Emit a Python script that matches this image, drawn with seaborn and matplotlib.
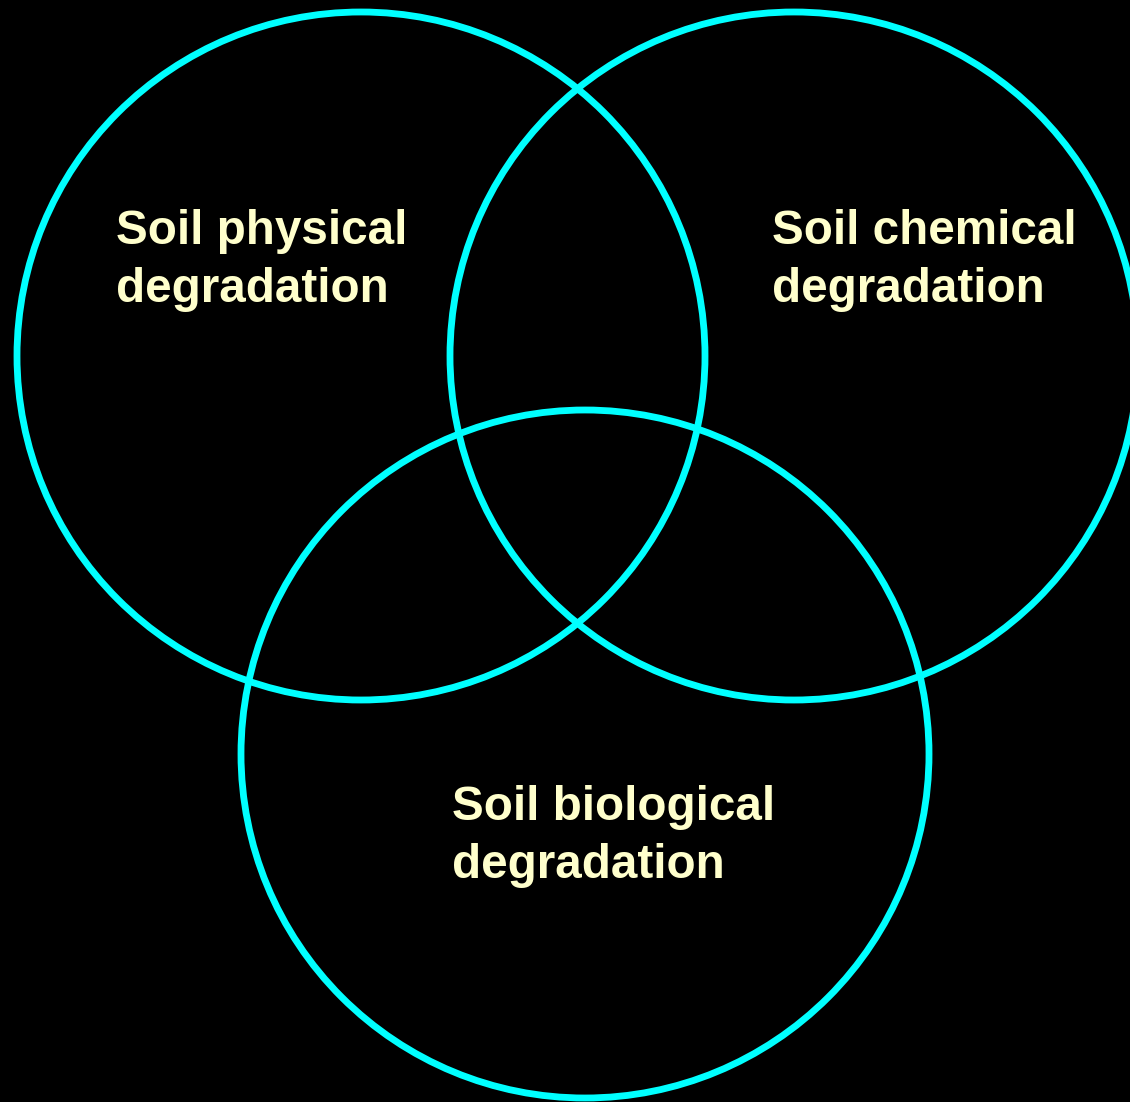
import matplotlib.pyplot as plt
import seaborn as sns

# Venn circles (pixel space of the original slide)
labels = ['Soil physical\ndegradation', 'Soil chemical\ndegradation', 'Soil biological\ndegradation']
center_x = [361, 794, 585]
center_y = [356, 356, 754]
radius = [344, 344, 344]
label_x = [116, 772, 452]
label_y = [209, 209, 785]

sns.set_style('dark', {'axes.facecolor': 'black', 'figure.facecolor': 'black'})
plt.rcParams['font.family'] = ['Liberation Sans', 'DejaVu Sans']

fig = plt.figure(figsize=(11.30, 11.02), dpi=100)
ax = fig.add_axes([0, 0, 1, 1])
ax.set_facecolor('black')

for i in range(3):
    ax.add_patch(plt.Circle((center_x[i], center_y[i]), radius[i], fill=False,
                            edgecolor='#00ffff', linewidth=4.9))

for i in range(3):
    ax.text(label_x[i], label_y[i], labels[i], color='#ffffcc', fontsize=34.3,
            fontweight='bold', ha='left', va='top', linespacing=1.37)

ax.set_xlim(0, 1130)
ax.set_ylim(1102, 0)
ax.set_aspect('equal')
ax.axis('off')

fig.savefig('out.png', dpi=100, facecolor='black')
